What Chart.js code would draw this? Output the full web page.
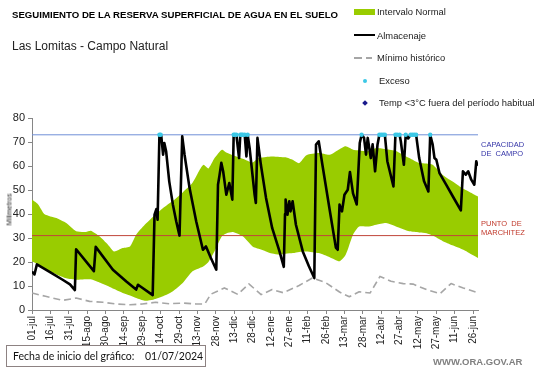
<!DOCTYPE html>
<html>
<head>
<meta charset="utf-8">
<script src="https://cdn.jsdelivr.net/npm/chart.js@4.4.1/dist/chart.umd.min.js"></script>
<style>
html,body{margin:0;padding:0;background:#fff;overflow:hidden;}
#wrap{position:relative;width:541px;height:368px;background:#fff;}
#c{position:absolute;left:0;top:0;}
.t{position:absolute;white-space:pre;line-height:1;font-family:"Liberation Sans",Arial,sans-serif;color:#000;}
.sw{position:absolute;}
</style>
</head>
<body>
<div id="wrap">
<canvas id="c" width="541" height="368"></canvas>
<div class="t" style="left:12px;top:10px;font-size:9.65px;font-weight:bold;">SEGUIMIENTO DE LA RESERVA SUPERFICIAL DE AGUA EN EL SUELO</div>
<div class="t" style="left:12px;top:40px;font-size:12px;color:#222;">Las Lomitas - Campo Natural</div>

<div class="sw" style="left:354px;top:9px;width:21px;height:6px;background:#99cc00;"></div>
<div class="t" style="left:377px;top:7px;font-size:9.4px;color:#222;">Intervalo Normal</div>
<div class="sw" style="left:354px;top:34px;width:21px;height:2px;background:#000;"></div>
<div class="t" style="left:377px;top:31px;font-size:9.4px;color:#222;">Almacenaje</div>
<div class="sw" style="left:354px;top:57px;width:8px;height:1.5px;background:#a6a6a6;"></div>
<div class="sw" style="left:366px;top:57px;width:6px;height:1.5px;background:#a6a6a6;"></div>
<div class="t" style="left:377px;top:53px;font-size:9.4px;color:#222;">Mínimo histórico</div>
<div class="sw" style="left:363px;top:79px;width:4px;height:4px;border-radius:2px;background:#3cc8e6;"></div>
<div class="t" style="left:379px;top:76px;font-size:9.4px;color:#222;">Exceso</div>
<div class="sw" style="left:363px;top:101px;width:4px;height:4px;transform:rotate(45deg);background:#1a1a8c;"></div>
<div class="t" style="left:379px;top:98px;font-size:9.4px;color:#222;">Temp &lt;3°C fuera del período habitual</div>

<div class="t" style="left:-11px;top:206px;font-size:7px;transform:rotate(-90deg);width:40px;text-align:center;color:#222;">Milimetros</div>

<div class="t" style="left:481px;top:141px;font-size:7.5px;color:#3535a8;">CAPACIDAD</div>
<div class="t" style="left:481px;top:150px;font-size:7.5px;color:#3535a8;">DE  CAMPO</div>
<div class="t" style="left:481px;top:220px;font-size:7.5px;color:#c0392b;">PUNTO  DE</div>
<div class="t" style="left:481px;top:229px;font-size:7.5px;color:#c0392b;">MARCHITEZ</div>

<div class="sw" style="left:6px;top:345px;width:200px;height:22px;border:1px solid #8d8282;box-sizing:border-box;background:#fff;"></div>
<div class="t" style="left:13px;top:351px;font-size:10.5px;font-family:Lato,sans-serif;color:#111;">Fecha de inicio del gráfico:</div>
<div class="t" style="left:145px;top:351px;font-size:10.5px;font-family:Lato,sans-serif;color:#111;">01/07/2024</div>
<div class="t" style="left:433px;top:357px;font-size:9.5px;font-weight:bold;color:#808080;">WWW.ORA.GOV.AR</div>
</div>

<script>
// ---- Data (days counted from 01-jul-2024) ----
const tickDays = [0,15,30,45,60,75,90,105,120,135,150,165,180,195,210,225,240,255,270,285,300,315,330,345,360];
const tickLabels = ['01-jul','16-jul','31-jul','15-ago','30-ago','14-sep','29-sep','14-oct','29-oct','13-nov','28-nov','13-dic','28-dic','12-ene','27-ene','11-feb','26-feb','13-mar','28-mar','12-abr','27-abr','12-may','27-may','11-jun','26-jun'];

const bandDays  = [0,5,10,15,20,28,36,44,48,55,62,67,74,80,85,92,99,107,115,123,131,137,140,144,149,155,159,164,172,180,185,191,196,202,207,213,218,224,234,243,251,256,262,267,275,281,289,297,308,316,322,327,335,343,349,356,364];
const bandUpper = [46,44,40,39,38.3,36.2,32.8,32.5,33,30.7,27.2,24.4,25.8,26.5,31.4,35.5,39,42.5,45.5,49,53,58.5,60.5,59,63.3,66.8,65.5,64.5,63,61.5,63.3,63.8,64,63.8,63.6,62.5,61.2,64.5,65.4,64.7,67,68.2,66.8,66.5,66.2,67.5,67,66.3,63.3,61.2,61,60.5,56.4,53.6,51.5,49.5,47.3];
const bandLower = [20.3,19,17.5,16,14.8,13.2,12.6,12.8,12.8,11.5,10,8.7,7.1,6,5,3.9,4.3,5.7,7.8,11.2,16.1,17.5,18.2,20,24.5,30.7,32,32.5,30.7,26.5,25.5,24.4,23.5,23,23.4,23.7,24.2,24.4,23.7,22,20.3,23,31.4,34.8,34.8,35.5,36.2,34.8,32.8,32.3,32,31,28.8,27,25.8,24,21.7];

const minDays   = [0,11,25,36,47,58,69,80,90,101,112,123,134,141,146,157,168,177,187,196,205,218,229,240,251,259,267,276,284,293,303,311,322,333,342,352,364];
const minValues = [7.1,5.7,4,5,3.6,3.2,2.5,2.2,2.5,3.2,2.6,2.9,2.5,2.5,6.6,9.2,6.5,10.9,6.4,8.5,7.2,10.2,13.4,11.3,7.5,5.5,7.6,7.1,14,12,11,10.8,8.5,6.8,11,9.2,7.2];

const almDays   = [0,2,4,14,25,31,35,36,50.5,52,66,77,85,86.5,98.5,100,101.5,102.5,104,105.5,107,108,109.5,112,115,117.7,120.4,122.6,124.5,128.6,134,139.5,142,146,150.4,151.8,153,154.5,156,158.6,161,163.5,164.6,166.8,169,170,173.6,175,176,177.6,181.7,182.7,184,186.8,191,196,202,205.5,206.5,207,208.5,210,211,212.7,215.4,221,226,230.4,231.8,234,237,242.7,248,249.5,251,253,255,257.7,259.5,262,265,267.5,269,271,272.6,274,276.5,278,280,282,283.5,288,290,295,296.6,300,301,303.5,305,307,309,313.5,316,320,323.5,325,327,328.5,330,332.6,338,343.5,350,351.7,354,356,358.5,361,362.6,363.5];
const almValues = [16,14.8,19,16,12.6,10.7,8.3,25.3,16.2,26.3,16.8,11.9,8.5,10.5,6.2,39.7,42,37.6,73,72.5,64.7,69.6,66,53.6,43.9,37,31,72.4,64.7,50.8,37,25.1,26.5,21.7,16.8,52.2,56,61.3,57.8,48,52.9,46,73,73,63.3,73,73,64,73,67.5,48,44.6,71.7,60.5,46.7,34.2,24.4,18,40,46,39.7,45.3,41.1,45.3,35.5,24.4,18.2,13.3,68.9,70.3,60.5,42.5,26,25.1,43.9,41.1,48,50.1,57.5,48.6,44,69.6,73,71.7,64.7,71.7,63.3,69,57.8,69,73,73,62,51.5,73,73,70.3,60.5,73,71.5,73,73,63.3,53.6,49.4,73,68.9,63.3,62.6,57,52.2,47.3,41.5,57.8,56.4,57.8,54.3,52.2,62,60];

const excessDays   = [104,105,164.6,165.5,166.8,170,171,172,173.6,176,269,283.5,285,286.5,288,296.6,298,300,305,309,310.5,312,313.5,325];
const excessValues = [73,73,73,73,73,73,73,73,73,73,73,73,73,73,73,73,73,73,73,73,73,73,73,73];

const capacidadCampo = 73;
const puntoMarchitez = 31;
const xRange = [0, 364];

const pts = (xs, ys) => xs.map((x, i) => ({x: x, y: ys[i]}));

new Chart(document.getElementById('c'), {
  type: 'line',
  data: {
    datasets: [
      {label:'upper', data: pts(bandDays, bandUpper), borderWidth:0, pointRadius:0, backgroundColor:'#99cc00', fill:'+1', order:6, tension:0.2},
      {label:'lower', data: pts(bandDays, bandLower), borderWidth:0, pointRadius:0, fill:false, order:6, tension:0.2},
      {label:'min', data: pts(minDays, minValues), borderColor:'#a6a6a6', borderWidth:1.6, borderDash:[7,4], pointRadius:0, fill:false, order:5},
      {label:'cap', data: pts(xRange, [capacidadCampo, capacidadCampo]), borderColor:'#6f8fd8', borderWidth:1, pointRadius:0, fill:false, order:4},
      {label:'mar', data: pts(xRange, [puntoMarchitez, puntoMarchitez]), borderColor:'#c0453a', borderWidth:1, pointRadius:0, fill:false, order:4},
      {label:'alm', data: pts(almDays, almValues), borderColor:'#000', borderWidth:2.6, pointRadius:0, fill:false, order:2, tension:0},
      {label:'exc', data: pts(excessDays, excessValues), showLine:false, pointRadius:2.2, pointBackgroundColor:'#3cc8e6', pointBorderWidth:0, order:1}
    ]
  },
  options: {
    responsive:false, animation:false, devicePixelRatio:1,
    layout:{padding:{left:0, top:118, right:63, bottom:0}},
    plugins:{legend:{display:false}, tooltip:{enabled:false}},
    elements:{line:{borderJoinStyle:'round'}},
    scales:{
      x:{
        type:'linear', min:xRange[0], max:xRange[1],
        afterBuildTicks:(ax)=>{ ax.ticks = tickDays.map(v=>({value:v})); },
        afterFit:(ax)=>{ ax.height = 58; },
        ticks:{autoSkip:false, minRotation:90, maxRotation:90, padding:2, color:'#222',
          font:{family:'"Liberation Sans", Arial, sans-serif', size:10},
          callback:(v)=>{ const i = tickDays.indexOf(v); return i>=0 ? tickLabels[i] : ''; }},
        grid:{display:true, drawOnChartArea:false, drawTicks:true, tickLength:4, color:'#868686'},
        border:{display:true, color:'#868686', width:1}
      },
      y:{
        min:0, max:80,
        afterFit:(ax)=>{ ax.width = 32; },
        ticks:{stepSize:10, padding:3, color:'#222', font:{family:'"Liberation Sans", Arial, sans-serif', size:11}},
        grid:{display:true, drawOnChartArea:false, drawTicks:true, tickLength:4, color:'#868686'},
        border:{display:true, color:'#868686', width:1}
      }
    }
  }
});
</script>
</body>
</html>
